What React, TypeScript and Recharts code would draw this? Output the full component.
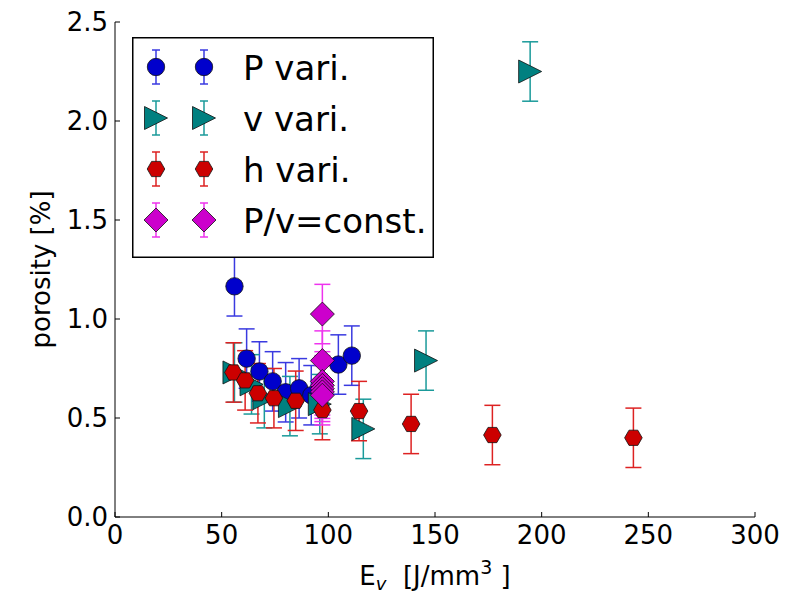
import React from "react";
import { ScatterChart, Scatter, XAxis, YAxis, ErrorBar, Legend, Label } from "recharts";

const font = "DejaVu Sans";
const xTicks = [0, 50, 100, 150, 200, 250, 300];
const yTicks = [0, 0.5, 1, 1.5, 2, 2.5];

const pVari = [
  { x: 56, y: 1.165, err: 0.15 }, { x: 61.7, y: 0.8, err: 0.15 }, { x: 67.7, y: 0.735, err: 0.15 },
  { x: 73.9, y: 0.685, err: 0.15 }, { x: 80, y: 0.63, err: 0.15 }, { x: 86.3, y: 0.65, err: 0.15 },
  { x: 92, y: 0.615, err: 0.15 }, { x: 104.7, y: 0.77, err: 0.15 }, { x: 111, y: 0.815, err: 0.15 },
];
const vVari = [
  { x: 56, y: 0.73, err: 0.15 }, { x: 64, y: 0.67, err: 0.15 }, { x: 70, y: 0.6, err: 0.15 },
  { x: 82, y: 0.56, err: 0.15 }, { x: 96, y: 0.57, err: 0.15 }, { x: 116.4, y: 0.445, err: 0.15 },
  { x: 145.8, y: 0.79, err: 0.15 }, { x: 194.6, y: 2.25, err: 0.15 },
];
const hVari = [
  { x: 55.5, y: 0.73, err: 0.15 }, { x: 61, y: 0.69, err: 0.15 }, { x: 67, y: 0.625, err: 0.15 },
  { x: 74.5, y: 0.6, err: 0.15 }, { x: 84.7, y: 0.587, err: 0.15 }, { x: 97.2, y: 0.54, err: 0.15 },
  { x: 114.4, y: 0.535, err: 0.15 }, { x: 138.8, y: 0.47, err: 0.15 }, { x: 176.9, y: 0.414, err: 0.15 },
  { x: 243, y: 0.4, err: 0.15 },
];
const pvConst = [
  { x: 97.2, y: 1.025, err: 0.15 }, { x: 97.2, y: 0.79, err: 0.15 }, { x: 97.2, y: 0.685, err: 0.15 },
  { x: 97.2, y: 0.665, err: 0.15 }, { x: 97.2, y: 0.648, err: 0.15 }, { x: 97.2, y: 0.632, err: 0.15 },
  { x: 97.2, y: 0.615, err: 0.15 },
];

const series = [
  { name: "P vari.", data: pVari, kind: "circle", fill: "#0000cc", bar: "#3a3ae0" },
  { name: "v vari.", data: vVari, kind: "tri", fill: "#008080", bar: "#1a9a9a" },
  { name: "h vari.", data: hVari, kind: "hex", fill: "#cc0000", bar: "#dd2222" },
  { name: "P/v=const.", data: pvConst, kind: "diamond", fill: "#cc00cc", bar: "#ee33ee" },
];

function Marker({ kind, cx, cy, fill }: any) {
  const common = { fill, stroke: "#111", strokeWidth: 0.8 };
  if (kind === "circle") return <circle cx={cx} cy={cy} r={8.7} {...common} />;
  if (kind === "tri")
    return <polygon points={`${cx + 11.5},${cy} ${cx - 11.5},${cy - 11.5} ${cx - 11.5},${cy + 11.5}`} {...common} />;
  if (kind === "diamond")
    return <polygon points={`${cx},${cy - 12} ${cx + 12},${cy} ${cx},${cy + 12} ${cx - 12},${cy}`} {...common} />;
  const r = 8.8;
  const pts = [0, 60, 120, 180, 240, 300]
    .map((a) => `${cx + r * Math.cos((a * Math.PI) / 180)},${cy + r * Math.sin((a * Math.PI) / 180)}`)
    .join(" ");
  return <polygon points={pts} {...common} />;
}

function LegendBox() {
  return (
    <svg width={302} height={221} style={{ display: "block" }}>
      <rect x={0.75} y={0.75} width={300.5} height={219.5} fill="#fff" stroke="#000" strokeWidth={1.5} />
      {series.map((s, i) => {
        const cy = 30 + i * 51;
        return (
          <g key={s.name}>
            {[24, 72].map((cx) => (
              <g key={cx}>
                <line x1={cx} x2={cx} y1={cy - 17} y2={cy + 17} stroke={s.bar} strokeWidth={1.5} />
                <line x1={cx - 4} x2={cx + 4} y1={cy - 17} y2={cy - 17} stroke={s.bar} strokeWidth={1.5} />
                <line x1={cx - 4} x2={cx + 4} y1={cy + 17} y2={cy + 17} stroke={s.bar} strokeWidth={1.5} />
                <Marker kind={s.kind} cx={cx} cy={cy} fill={s.fill} />
              </g>
            ))}
            <text x={111} y={cy + 12.5} fontFamily={font} fontSize={34} fill="#000">{s.name}</text>
          </g>
        );
      })}
    </svg>
  );
}

const XLabel = ({ viewBox }: any) => {
  const cx = viewBox.x + viewBox.width / 2;
  return (
    <text x={cx} y={585} textAnchor="middle" fontFamily={font} fontSize={26} fill="#000">
      E<tspan fontSize={18} fontStyle="italic" dy={5}>v</tspan>
      <tspan dy={-5}>{"\u00a0\u00a0[J/mm"}</tspan>
      <tspan fontSize={19} dy={-11}>3</tspan>
      <tspan dy={11}>{"\u00a0]"}</tspan>
    </text>
  );
};

const YLabel = ({ viewBox }: any) => {
  const cy = viewBox.y + viewBox.height / 2;
  return (
    <text x={50} y={cy} transform={`rotate(-90, 50, ${cy})`} textAnchor="middle" fontFamily={font} fontSize={26} fill="#000">
      porosity [%]
    </text>
  );
};

export default function App() {
  const tickStyle = { fontSize: 26, fill: "#000", fontFamily: font };
  const axisLine = { stroke: "#000", strokeWidth: 1 };
  return (
    <div style={{ position: "absolute", left: 0, top: 0, width: 808, height: 594, background: "#fff" }}>
      <ScatterChart width={808} height={594} margin={{ top: 22, right: 53, bottom: 0, left: 0 }}>
        <XAxis type="number" dataKey="x" domain={[0, 300]} ticks={xTicks} allowDataOverflow height={77}
          tick={tickStyle} tickSize={-5} tickMargin={14} axisLine={axisLine} tickLine={axisLine}>
          <Label content={XLabel} />
        </XAxis>
        <XAxis xAxisId="top" orientation="top" type="number" dataKey="x" domain={[0, 300]} ticks={xTicks}
          allowDataOverflow height={0} tick={false} tickSize={-5} axisLine={axisLine} tickLine={axisLine} />
        <YAxis type="number" dataKey="y" domain={[0, 2.5]} ticks={yTicks} allowDataOverflow width={115}
          tick={tickStyle} tickSize={-5} tickMargin={12} tickFormatter={(v: number) => v.toFixed(1)}
          axisLine={axisLine} tickLine={axisLine}>
          <Label content={YLabel} />
        </YAxis>
        <YAxis yAxisId="right" orientation="right" type="number" dataKey="y" domain={[0, 2.5]} ticks={yTicks}
          allowDataOverflow width={0} tick={false} tickSize={-5} axisLine={axisLine} tickLine={axisLine} />
        {series.map((s) => (
          <Scatter key={s.name} name={s.name} data={s.data} fill={s.fill} isAnimationActive={false}
            shape={(p: any) => <Marker kind={s.kind} cx={p.cx} cy={p.cy} fill={s.fill} />}>
            <ErrorBar dataKey="err" direction="y" width={8} stroke={s.bar} strokeWidth={1.5} />
          </Scatter>
        ))}
        <Legend layout="horizontal" verticalAlign="middle" align="center" content={() => <LegendBox />}
          wrapperStyle={{ left: 132, top: 37, width: 302, height: 221 }} />
      </ScatterChart>
    </div>
  );
}
